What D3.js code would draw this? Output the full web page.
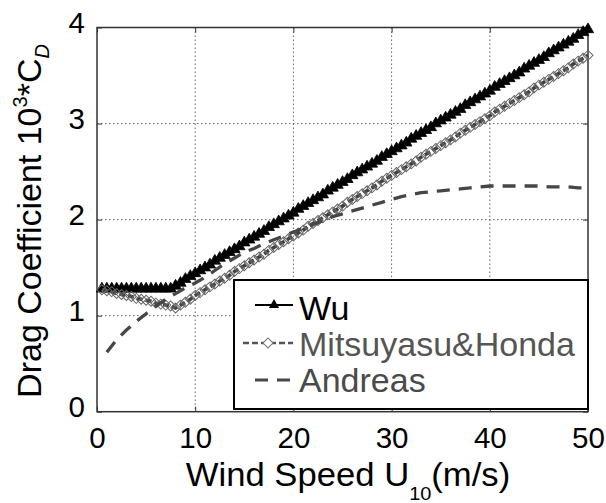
<!DOCTYPE html>
<html>
<head>
<meta charset="utf-8">
<script src="https://cdn.jsdelivr.net/npm/d3@7"></script>
<style>
  body { margin: 0; background: #fff; }
  svg { display: block; }
  svg text { font-family: "Liberation Sans", Arial, sans-serif; }
</style>
</head>
<body>
<div id="chart"></div>
<script>
// ticks
const xTicks = [0, 10, 20, 30, 40, 50];
const yTicks = [0, 1, 2, 3, 4];
const seriesNames = ["Wu", "Mitsuyasu&Honda", "Andreas"];

// Wu and Mitsuyasu&Honda share the 0.5 m/s steps
const wuSpeed = [0.5, 1, 1.5, 2, 2.5, 3, 3.5, 4, 4.5, 5, 5.5, 6, 6.5, 7, 7.5,
  8, 8.5, 9, 9.5, 10, 10.5, 11, 11.5, 12, 12.5, 13, 13.5, 14, 14.5, 15, 15.5, 16, 16.5, 17, 17.5,
  18, 18.5, 19, 19.5, 20, 20.5, 21, 21.5, 22, 22.5, 23, 23.5, 24, 24.5, 25, 25.5, 26, 26.5, 27, 27.5,
  28, 28.5, 29, 29.5, 30, 30.5, 31, 31.5, 32, 32.5, 33, 33.5, 34, 34.5, 35, 35.5, 36, 36.5, 37, 37.5,
  38, 38.5, 39, 39.5, 40, 40.5, 41, 41.5, 42, 42.5, 43, 43.5, 44, 44.5, 45, 45.5, 46, 46.5, 47, 47.5,
  48, 48.5, 49, 49.5, 50];
const wuCd = [1.28, 1.28, 1.28, 1.28, 1.28, 1.28, 1.28, 1.28, 1.28, 1.28, 1.28, 1.28, 1.28, 1.28, 1.28,
  1.31, 1.34, 1.38, 1.41, 1.44, 1.47, 1.50, 1.53, 1.57, 1.60, 1.63, 1.66, 1.69, 1.72, 1.76, 1.79, 1.82, 1.85, 1.88, 1.92,
  1.95, 1.98, 2.01, 2.04, 2.07, 2.11, 2.14, 2.17, 2.20, 2.23, 2.26, 2.30, 2.33, 2.36, 2.39, 2.42, 2.46, 2.49, 2.52, 2.55,
  2.58, 2.61, 2.65, 2.68, 2.71, 2.74, 2.77, 2.80, 2.84, 2.87, 2.90, 2.93, 2.96, 3.00, 3.03, 3.06, 3.09, 3.12, 3.15, 3.19,
  3.22, 3.25, 3.28, 3.31, 3.34, 3.38, 3.41, 3.44, 3.47, 3.50, 3.53, 3.57, 3.60, 3.63, 3.66, 3.69, 3.73, 3.76, 3.79, 3.82,
  3.85, 3.88, 3.92, 3.95, 3.98];

const mhSpeed = wuSpeed.slice();
const mhCd = [1.27, 1.26, 1.25, 1.23, 1.22, 1.21, 1.20, 1.18, 1.17, 1.16, 1.15, 1.13, 1.12, 1.11, 1.10,
  1.08, 1.11, 1.14, 1.17, 1.21, 1.24, 1.27, 1.30, 1.33, 1.36, 1.39, 1.42, 1.46, 1.49, 1.52, 1.55, 1.58, 1.61, 1.64, 1.68,
  1.71, 1.74, 1.77, 1.80, 1.83, 1.86, 1.89, 1.93, 1.96, 1.99, 2.02, 2.05, 2.08, 2.11, 2.14, 2.18, 2.21, 2.24, 2.27, 2.30,
  2.33, 2.36, 2.40, 2.43, 2.46, 2.49, 2.52, 2.55, 2.58, 2.61, 2.65, 2.68, 2.71, 2.74, 2.77, 2.80, 2.83, 2.86, 2.90, 2.93,
  2.96, 2.99, 3.02, 3.05, 3.08, 3.12, 3.15, 3.18, 3.21, 3.24, 3.27, 3.30, 3.33, 3.37, 3.40, 3.43, 3.46, 3.49, 3.52, 3.55,
  3.58, 3.62, 3.65, 3.68, 3.71];

// Andreas, every 1 m/s
const anSpeed = [1, 2, 3, 4, 5, 6, 7, 8, 9, 10, 11, 12, 13, 14, 15, 16, 17, 18, 19, 20, 21, 22, 23, 24, 25,
  26, 27, 28, 29, 30, 31, 32, 33, 34, 35, 36, 37, 38, 39, 40, 41, 42, 43, 44, 45, 46, 47, 48, 49, 50];
const anCd = [0.62, 0.75, 0.85, 0.94, 1.02, 1.10, 1.17, 1.23, 1.29, 1.34, 1.40, 1.47, 1.54, 1.60, 1.66, 1.70, 1.75, 1.79, 1.83, 1.87,
  1.91, 1.95, 1.99, 2.03, 2.06, 2.09, 2.12, 2.15, 2.18, 2.21, 2.24, 2.26, 2.28, 2.29, 2.30, 2.31, 2.32, 2.33, 2.34, 2.35,
  2.35, 2.35, 2.35, 2.35, 2.35, 2.34, 2.34, 2.34, 2.33, 2.33];

const width = 606;
const height = 503;
const margin = { top: 27.5, right: 18, bottom: 91.3, left: 97 };
const plotW = width - margin.left - margin.right;
const plotH = height - margin.top - margin.bottom;
const fontFam = "'Liberation Sans', Arial, sans-serif";

const svg = d3.select("#chart").append("svg")
  .attr("width", width)
  .attr("height", height);

const g = svg.append("g").attr("transform", `translate(${margin.left},${margin.top})`);

const x = d3.scaleLinear().domain([0, 50]).range([0, plotW]);
const y = d3.scaleLinear().domain([0, 4]).range([plotH, 0]);

// dotted grid
const gGrid = g.append("g").attr("stroke", "#666").attr("stroke-width", 1).attr("stroke-dasharray", "1.5,2.5");
gGrid.selectAll(".gx").data(xTicks.slice(1, -1)).join("line")
  .attr("x1", d => x(d)).attr("x2", d => x(d)).attr("y1", 0).attr("y2", plotH);
gGrid.selectAll(".gy").data(yTicks.slice(1, -1)).join("line")
  .attr("x1", 0).attr("x2", plotW).attr("y1", d => y(d)).attr("y2", d => y(d));

// axes, ticks pointing inward
const tickLen = 5;
const fmt = d3.format("d");
const xAxis = g.append("g").attr("transform", `translate(0,${plotH})`)
  .call(d3.axisBottom(x).tickValues(xTicks).tickFormat(fmt).tickSizeInner(-tickLen).tickSizeOuter(0));
xAxis.selectAll("text").attr("y", 36.5).attr("dy", null);

const yAxis = g.append("g")
  .call(d3.axisLeft(y).tickValues(yTicks).tickFormat(fmt).tickSizeInner(-tickLen).tickSizeOuter(0));
yAxis.selectAll("text").attr("x", -12).attr("y", 5).attr("dy", null);

[xAxis, yAxis].forEach(a => a.attr("font-family", fontFam).attr("font-size", 29.5));

g.append("g").call(d3.axisTop(x).tickValues(xTicks).tickSizeInner(-tickLen).tickSizeOuter(0).tickFormat(""));
g.append("g").attr("transform", `translate(${plotW},0)`)
  .call(d3.axisRight(y).tickValues(yTicks).tickSizeInner(-tickLen).tickSizeOuter(0).tickFormat(""));

g.selectAll(".domain").remove();
g.selectAll(".tick line").attr("stroke", "#333");
g.selectAll(".tick text").attr("fill", "#000");

g.append("rect")
  .attr("width", plotW).attr("height", plotH)
  .attr("fill", "none").attr("stroke", "#333").attr("stroke-width", 1.5);

// series
const line = d3.line().x(d => x(d[0])).y(d => y(d[1]));
const wuData = wuSpeed.map((s, i) => [s, wuCd[i]]);
const mhData = mhSpeed.map((s, i) => [s, mhCd[i]]);
const anData = anSpeed.map((s, i) => [s, anCd[i]]);

const tri = d3.symbol(d3.symbolTriangle, 55);
const dia = d3.symbol(d3.symbolSquare, 50);

// Wu
g.append("path").datum(wuData).attr("d", line)
  .attr("fill", "none").attr("stroke", "#000").attr("stroke-width", 2);
g.append("g").selectAll("path").data(wuData).join("path")
  .attr("d", tri)
  .attr("transform", d => `translate(${x(d[0])},${y(d[1])})`)
  .attr("fill", "#000").attr("stroke", "#000").attr("stroke-width", 0.8);

// Mitsuyasu & Honda
g.append("path").datum(mhData).attr("d", line)
  .attr("fill", "none").attr("stroke", "#404040").attr("stroke-width", 3.6).attr("stroke-dasharray", "6,3");
g.append("g").selectAll("path").data(mhData).join("path")
  .attr("d", dia)
  .attr("transform", d => `translate(${x(d[0])},${y(d[1])}) rotate(45)`)
  .attr("fill", "none").attr("stroke", "#666").attr("stroke-width", 1);

// Andreas
g.append("path").datum(anData).attr("d", line)
  .attr("fill", "none").attr("stroke", "#464646").attr("stroke-width", 3.3).attr("stroke-dasharray", "13,9");

// legend
const leg = svg.append("g");
leg.append("rect")
  .attr("x", 234).attr("y", 280).attr("width", 354).attr("height", 129)
  .attr("fill", "#fff").attr("stroke", "#000").attr("stroke-width", 2);

const legY = [305, 343, 380];
const legBase = [320, 356, 392];
const legColor = ["#000", "#555", "#4a4a4a"];

leg.append("line").attr("x1", 255).attr("x2", 293).attr("y1", legY[0]).attr("y2", legY[0])
  .attr("stroke", "#000").attr("stroke-width", 2);
leg.append("path").attr("d", d3.symbol(d3.symbolTriangle, 45)).attr("transform", `translate(274,${legY[0]})`).attr("fill", "#000");

leg.append("line").attr("x1", 243).attr("x2", 293).attr("y1", legY[1]).attr("y2", legY[1])
  .attr("stroke", "#555").attr("stroke-width", 2.5).attr("stroke-dasharray", "6,3");
leg.append("path").attr("d", dia).attr("transform", `translate(268,${legY[1]}) rotate(45)`)
  .attr("fill", "#fff").attr("stroke", "#777").attr("stroke-width", 1);

leg.append("line").attr("x1", 255).attr("x2", 293).attr("y1", legY[2]).attr("y2", legY[2])
  .attr("stroke", "#464646").attr("stroke-width", 3).attr("stroke-dasharray", "13,9");

leg.selectAll(".ltext").data(seriesNames).join("text")
  .attr("x", 299).attr("y", (d, i) => legBase[i])
  .attr("font-size", 34)
  .attr("fill", (d, i) => legColor[i])
  .text(d => d);

// axis labels (a little wider than tall, as in the source figure)
const xl = svg.append("text")
  .attr("transform", "translate(348,486) scale(1.05,1)")
  .attr("text-anchor", "middle").attr("font-size", 33).attr("fill", "#000");
xl.append("tspan").text("Wind Speed U");
xl.append("tspan").attr("font-size", 19).attr("dy", 14).text("10");
xl.append("tspan").attr("dy", -14).text("(m/s)");

const yl = svg.append("text")
  .attr("transform", "translate(41,221) rotate(-90)")
  .attr("text-anchor", "middle").attr("font-size", 34).attr("fill", "#000");
yl.append("tspan").text("Drag Coefficient 10");
yl.append("tspan").attr("font-size", 20).attr("dy", -14).text("3");
yl.append("tspan").attr("dy", 14).text("*C");
yl.append("tspan").attr("font-size", 20).attr("font-style", "italic").attr("dy", 8).text("D");
</script>
</body>
</html>
